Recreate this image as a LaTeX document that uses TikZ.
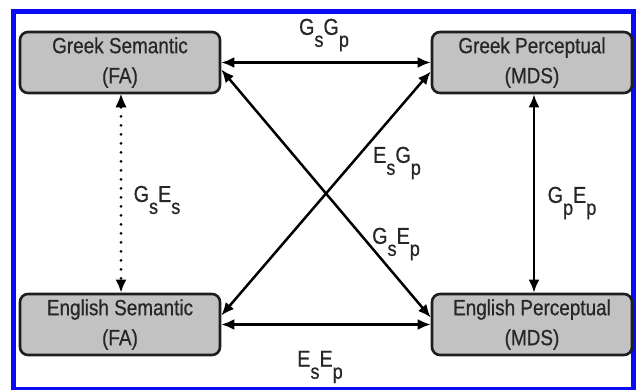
\documentclass[tikz,border=0pt]{standalone}
\usepackage{fontspec}
\setmainfont{Liberation Sans}[FakeStretch=0.86,FakeBold=0.6]
\usetikzlibrary{arrows.meta}
\definecolor{boxfill}{HTML}{C2C2C2}
\definecolor{boxline}{HTML}{1E1E1E}
\definecolor{txt}{HTML}{262626}
\definecolor{frameblue}{HTML}{0A0AF5}
\newcommand{\sublab}[4]{{\fontsize{23}{23}\selectfont #1{\fontsize{21}{21}\selectfont\lower12pt\hbox{#2}}#3{\fontsize{21}{21}\selectfont\lower12pt\hbox{#4}}}}
\begin{document}
\begin{tikzpicture}[x=1pt,y=-1pt,
  box/.style={draw=boxline,fill=boxfill,line width=2.6pt,rounded corners=8pt,
    minimum width=200pt,minimum height=61pt,inner sep=0pt,align=center,
    text=txt,font=\fontsize{22}{30}\selectfont},
  link/.style={line width=2.5pt,draw=black,{Latex[length=13pt,width=11pt]}-{Latex[length=13pt,width=11pt]}},
  dotlink/.style={line width=3pt,draw=black,dash pattern=on 0pt off 9pt,line cap=round,
    {Latex[length=13pt,width=11pt,line width=0pt]}-{Latex[length=13pt,width=11pt]}},
  lab/.style={inner sep=0pt,text=txt}]
\useasboundingbox (0,0) rectangle (637,389);
\fill[white] (0,0) rectangle (637,389);
\begin{scope}
\clip (0,0) rectangle (637,389);
\draw[frameblue,line width=5pt] (13.5,11.5) rectangle (633.5,389.5);
\end{scope}
\node[box] (gs) at (120,62.5) {Greek Semantic\\(FA)};
\node[box] (gp) at (532,62.5) {Greek Perceptual\\(MDS)};
\node[box] (es) at (120,324.5) {English Semantic\\(FA)};
\node[box] (ep) at (532,324.5) {English Perceptual\\(MDS)};
\draw[link] (gs.east) -- (gp.west);
\draw[link] (es.east) -- (ep.west);
\draw[link] ([yshift=-7pt]gs.east) -- ([yshift=7pt]ep.west);
\draw[link] ([yshift=9pt]es.east) -- ([yshift=-9pt]gp.west);
\draw[dotlink] ([xshift=1pt]gs.south) -- ([xshift=1pt]es.north);
\draw[link] ([xshift=2pt]gp.south) -- ([xshift=2pt]ep.north);
\node[lab] (l1) at (324,35) {\sublab{G}{s}{G}{p}};
\node[lab] (l2) at (157,200) {\sublab{G}{s}{E}{s}};
\node[lab] (l3) at (397,163) {\sublab{E}{s}{G}{p}};
\node[lab] (l4) at (396,244) {\sublab{G}{s}{E}{p}};
\node[lab] (l5) at (572,203) {\sublab{G}{p}{E}{p}};
\node[lab] (l6) at (320,367) {\sublab{E}{s}{E}{p}};
\end{tikzpicture}
\end{document}
